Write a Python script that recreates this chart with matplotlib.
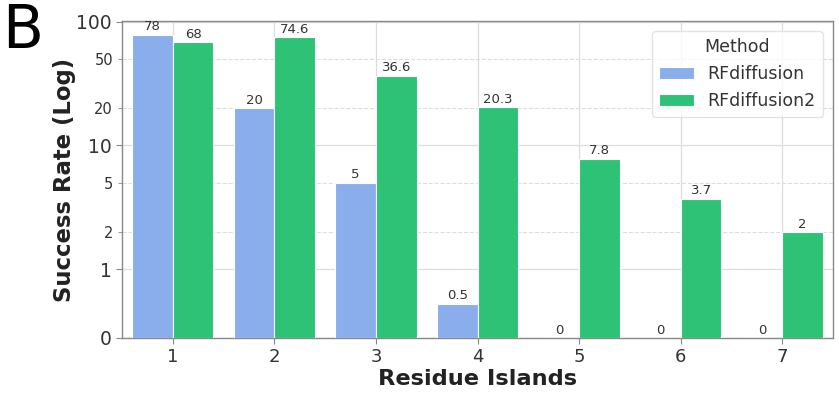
import matplotlib.pyplot as plt
import matplotlib.ticker as mticker
import numpy as np

islands = [1, 2, 3, 4, 5, 6, 7]
rfdiffusion = [78, 20, 5, 0.5, 0, 0, 0]
rfdiffusion2 = [68, 74.6, 36.6, 20.3, 7.8, 3.7, 2]
methods = ['RFdiffusion', 'RFdiffusion2']
colors = ['#8aadeb', '#2ec276']

fig = plt.figure(figsize=(8.39, 3.96), dpi=100)
ax = fig.add_axes([0.1454, 0.1465, 0.8476, 0.8005])

x = np.array(islands)
w = 0.4
b1 = ax.bar(x - w / 2, rfdiffusion, w, color=colors[0], edgecolor='white', linewidth=0.8,
            label=methods[0], zorder=3)
b2 = ax.bar(x + w / 2, rfdiffusion2, w, color=colors[1], edgecolor='white', linewidth=0.8,
            label=methods[1], zorder=3)

for bars, vals in [(b1, rfdiffusion), (b2, rfdiffusion2)]:
    for bar, v in zip(bars, vals):
        txt = f'{v:g}'
        ax.annotate(txt, (bar.get_x() + bar.get_width() / 2, v), xytext=(0, 1),
                    textcoords='offset points', ha='center', va='bottom',
                    fontsize=9.5, color='#333333', zorder=4)

ax.set_yscale('symlog', linthresh=1, linscale=0.5)
ax.set_ylim(0, 101)
ax.set_xlim(0.5, 7.5)

ax.yaxis.set_major_locator(mticker.FixedLocator([0, 1, 10, 100]))
ax.yaxis.set_major_formatter(mticker.FixedFormatter(['0', '1', '10', '100']))
ax.yaxis.set_minor_locator(mticker.FixedLocator([2, 5, 20, 50]))
ax.yaxis.set_minor_formatter(mticker.FixedFormatter(['2', '5', '20', '50']))
ax.set_xticks(islands)

ax.tick_params(axis='y', which='major', labelsize=13.5, colors='#333333', length=4, color='#888888')
ax.tick_params(axis='y', which='minor', labelsize=10.5, labelcolor='#333333', length=3, color='#888888')
ax.tick_params(axis='x', labelsize=13, colors='#333333', length=4, color='#888888')

ax.grid(axis='y', which='major', color='#dddddd', linewidth=0.9, zorder=0)
ax.grid(axis='y', which='minor', color='#dddddd', linestyle='--', linewidth=0.8, zorder=0)
ax.grid(axis='x', which='major', color='#dddddd', linewidth=0.9, zorder=0)
ax.set_axisbelow(True)

for s in ax.spines.values():
    s.set_color('#888888')
    s.set_linewidth(1.0)

ax.set_xlabel('Residue Islands', fontsize=16.2, fontweight='bold', color='#222222', labelpad=2)
ax.set_ylabel('Success Rate (Log)', fontsize=16.4, fontweight='bold', color='#222222', labelpad=0)

leg = ax.legend(title='Method', loc='upper right', fontsize=12.5, title_fontsize=12.5,
                frameon=True, fancybox=True, borderaxespad=0.6, handlelength=2.0)
leg.get_frame().set_edgecolor('#dddddd')
for t in leg.get_texts():
    t.set_color('#333333')
leg.get_title().set_color('#333333')

fig.text(0.003, 0.995, 'B', fontsize=43, va='top', ha='left', color='black')

plt.savefig('out.png', dpi=100)
